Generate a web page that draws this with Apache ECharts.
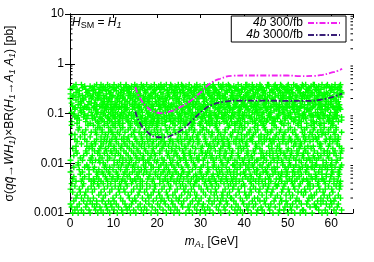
<!DOCTYPE html>
<html><head><meta charset="utf-8">
<script src="https://cdn.jsdelivr.net/npm/echarts@6/dist/echarts.min.js"></script>
<style>html,body{margin:0;padding:0;background:#fff}#c{width:374px;height:262px}</style>
</head><body><div id="c"></div>
<script>
// ---- data ----
const xTickLabels = ['0','10','20','30','40','50','60'];
const yTickLabels = ['0.001','0.01','0.1','1','10'];
const minorTickValues = [0.002,0.003,0.004,0.005,0.006,0.007,0.008,0.009,
  0.02,0.03,0.04,0.05,0.06,0.07,0.08,0.09,
  0.2,0.3,0.4,0.5,0.6,0.7,0.8,0.9,
  2,3,4,5,6,7,8,9];
const line300X = [15,16,17.5,19,21,23,25,27.5,30,32,34.5,37.5,40,45,50,53,56,58,60,61.5,62.5];
const line300Y = [0.34,0.21,0.14,0.112,0.102,0.11,0.13,0.175,0.265,0.39,0.5,0.575,0.58,0.58,0.58,0.565,0.57,0.6,0.66,0.72,0.79];
const line3000X = [15,16,17.5,19.5,21.5,23.5,26,28,30.5,32.5,35.5,39,45,50,55,57,59,61,62.5];
const line3000Y = [0.11,0.066,0.045,0.034,0.033,0.037,0.049,0.072,0.114,0.148,0.172,0.181,0.181,0.18,0.18,0.186,0.2,0.225,0.25];
// scan cloud: one string per mass column (0.25 GeV wide, first centred at 0.125 GeV);
// each character is one scan point; the character picks a log10(sigma) level below
const cloudAlphabet = '0123456789abcdefghijklmnopqrstuvwxyzABCDEFGHIJKLMNOPQRSTUVWXYZ';
const cloudLevelLog = [
  -3.000,-2.940,-2.880,-2.820,-2.760,-2.700,-2.640,-2.580,-2.520,-2.460,
  -2.410,-2.363,-2.316,-2.269,-2.222,-2.175,-2.128,-2.081,-2.034,-1.987,-1.940,-1.893,-1.846,
  -1.799,-1.752,-1.705,-1.658,-1.611,-1.564,-1.517,-1.470,-1.423,-1.376,-1.329,-1.282,-1.235,
  -1.195,-1.164,-1.133,-1.102,-1.071,-1.040,-1.009,-0.978,-0.947,-0.916,-0.885,-0.854,-0.823,
  -0.792,-0.761,-0.730,-0.699,-0.668,-0.637,-0.606,-0.575,-0.544,-0.513,-0.482,-0.451,-0.420];
const cloudColumns = [
"Q3fWk8T","zBa2NvH","Lp0XcR7","dGm4YhS","Ev9KtJ1","qZo5UbP","Wn2DsA6","iMx0FjR","Tg8CyV3","lOe7IuK",
"Zb1HrN5","wQk9ScXf","Jm4PaE0","tGv6LhYd","Rx7BoW2","nKs3DiUq","Fh5MzT8","cVp1JgOe","Yk0SuA4","rNb9QwHl",
"Dj3XmF7pRq","VzKa5TgWc","LbN8sY2hEo","UkCw1PxIr","GtZ4fJvMd3","BnQeS0yHa","WkR6cAoT9g","LyEpX2mUj","PsH1uZqD7b","KwNf4VxCl",
"YeM0aGrS5j","OtIh8QzBn","KvF3dXiW6p","RoJc2LsTg","AuN9kZbE1m","HyPq4DwVf","QhT7lCsY0e","MaGx3UrKo","JcB2wOnR8t","FzIv5XgSd",
"ZpE4iLqW1k","DuNb9HmAy","MtV6oKfX3s","GcQj0RwPe","BrJ8hYdT2n","OzLa7EvCk","UmS5gFpZ9x","HiWq1NbKt","DyQ0cRlA4j","VeTu8GsXo",
"IwL3fMbP7r","ZkEn2YhJa","VgC9tOqK1d","SxBi6FmWu","NjX2eHsU5p","AlRz0QcTy","GoY7kDaW3v","MfJb4LrPh","SqF1nTiE8w","KuZc5BxOg",
"HbR4mXjN0t","CeVs9YpAl","QzK6dGoU2h","LwIf7TrMk","EaW3yPcS8n","JqBv1ZgDu","XlH9sAtF5b","OkRe0NmYi","CpV2rMwQ7g","TjDz4KhUo",
"LfZ8aIuB1x","EsWn6PcGk","OyN5jRdH3q","XtAl9SvFe","TmC0wKgY6i","QbMo2JzEr","BhU7pGsL4c","VnZx8DkWa","RvI1eOfT9m","HyNj5XqAt",
"FkS3zBwE0d","PuLr7CgYh","WoJ6nMcQ2a","ZiGs4UeKx","AtX8lDvR5p","HqOb1TfNj","MgE4uYkW9s","BzIc3QrLd","ZiP0hFoC7x","SeKm6VwJb",
"HnT2qUaN5g","XlRy8DsEf","KcB9vLtZ1j","WoMd4YpGi","QsF6eIrA3k","NhUx0CbTm","DwY7oSgV2z","JfPa5LnXq","UjR1cKmH8t","EiZs4BvOe",
"NxG5bQpW0l","TdAu9FkCy","IeM3sZhD6r","YoKw2VaJg","BlU8nXfP4c","RqGt7HmSz","YpA0kEjL9w","NvCi5TdOu","GrK2hWbS7e","ZsIx1QfMn",
"VtO6aDmJ3o","FyUc8XlBk","LzH4gPqR0u","TjEw9NsAd","SaC7iYnV2x","KeMp5WbGh","FuX1dObZ6l","QrJk3HtEv","RkN9mUcT4s","AfYz0LgIw",
"JoE5pVhB8e","WnDq2SxKc","TdQ3yGiM7k","ZaRv1OuFl","CnW0tJsL6b","HxPe9XmAr","MhY8fKoU2j","EgTw4BcVq","XbF5rSzI1n","QuGl7NpDa",
"AwR3vOmC9d","LkZh0UsYe","PjT6cXqH4i","FbMt8KoWz","EgB2lNyV7a","SrJe5DuQx","KsZ9hUdG1w","AoIn3RfTm","OvL4kMpY0b","XcWj6EtHg",
"ZqD7eQiS5s","KmBu2NaFr","GlJ1oTwR8x","VhYc4PnCd","UfA6tHbM3j","EkZs9LqOy","IzW0gYrN7p","DlQa5XeKv","BmS5uFcU2n","RoHi8TwJb",
"YdK9iPsE4f","GzMx1VhAk","NcQ3aLtX6r","WjOe0BgSu","HpV8wDnZ2m","KyTb7FsIl","RiC1qJeA5h","UvLz9YoMt","DxO4sGkW0c","NfRp3QaEj",
"WuM7yBlH9e","SiXd6KrZg","LsT2nZqF5v","JoAm1UcPh","FgY6jIwR3k","QbDt8NxVe","QaE0mOdL7t","HuWl4ZsBi","TvK9cXhS2o","GyCf5MjRn",
"JrA3bUpN8w","YeIk0LgDq","VkH5gMzT1x","FsOa7QcWu","CeZ8pRiJ4d","KnXv2BtYl","SoG1hWbE6r","NjUm9AfHz","MyQ4lDuV0s","TcLg3PxKa",
"ItX7kBnO5f","ZhRe8JwCv","ZcN2qFaY9i","GtEo1SmUd","EjL6wHsK3b","WxQp7VrAg","OnU0tPeC8l","MkYz4DhIs","BfR5aZgT2u","JvNc9XoLy",
"XhD9mEqW6j","SaKl0GtFe","KwV3cIrM1p","UoBd5ZnQx","PbY7eOfA4k","HsTi8LjRu","GzS1nXtJ9v","CwEm2WaDh","UlK4rQdN6g","YbMf3IeVo",
"ApF8sVhZ0x","LuRj7TcOk","RmE2iGyH5t","WnDo1QbXs","NdT6fKaU3w","ZqJh9BlMg","HsO0bMxC8e","SrYk4PvEi","YuJ5oRcL2m","VfGt7XnAz",
"ChW9kEpI4d","NsUa0KgTq","LeB3yXjQ7r","OmZw1FhSb","TnG1cDuY6l","HvKp8MsRx","DoZ7tUiE0f","AgQy3WkJc","WqM4hJbS9n","XeIl5VaOu",
"JkR8aNwF2s","CzTd6YpGh","FcU0vOhK5j","LqEx9BmZt","ZyA6gSlP3o","WuMi2HcNe","QiX2dBtV7k","GnRa4JwFs","MbE9lYfT1u","DhOz8KqUr",
"ArN3pHmW5x","SvJc0ZeLg","SwG7cQkD4i","XbFo6TyAn","IvL1sMaR8h","UtYe3PjOd","EhZ5oTgJ0m","KwNq9CxBl","XtC2rFnS6b","VdHy4QuMi",
"OgY8kWiA3e","LpBs7RzDf","KaQ4wUcE1n","JhZt5GoXv","HmP0jDyN9x","TrIk2FsWb","BdS6tOuL3f","XqMa8YgKe","VnJ9hRbZ5l","CwEi1UoTp"
];
const X_MIN = 0, X_MAX = 65;

// ---- decode cloud ----
const cloudPoints = [];
cloudColumns.forEach((col, i) => {
  const x = 0.125 + 0.25 * i;
  for (const ch of col) {
    cloudPoints.push([x, Math.pow(10, cloudLevelLog[cloudAlphabet.indexOf(ch)])]);
  }
});
const pair = (xs, ys) => xs.map((x, i) => [x, ys[i]]);

const FONT = 'Liberation Sans, Arial, Helvetica, sans-serif';
const plus = 'path://M0,2.3H6V3.7H0ZM2.3,0H3.7V6H2.3Z';
const sub = {fontSize: 8, fontFamily: FONT, lineHeight: 8, verticalAlign: 'bottom', color: '#000'};
const subI = Object.assign({}, sub, {fontStyle: 'italic'});
const ital = {fontStyle: 'italic', fontFamily: FONT, color: '#000'};

const chart = echarts.init(document.getElementById('c'), null, {renderer: 'canvas'});
chart.setOption({
  animation: false,
  backgroundColor: '#fff',
  grid: {left: 70, right: 21, top: 14, bottom: 49, show: false, containLabel: false, outerBoundsMode: 'none'},
  xAxis: [{
    type: 'value', min: X_MIN, max: X_MAX, interval: 10,
    axisLine: {show: true, lineStyle: {color: '#000', width: 1}},
    axisTick: {show: true, inside: true, length: 4, lineStyle: {color: '#000'}},
    axisLabel: {color: '#000', fontSize: 12, fontFamily: FONT, margin: 5,
      formatter: v => xTickLabels[Math.round(v / 10)] || ''},
    splitLine: {show: false},
    name: '{i|m}{si|A}{ssi|1} [GeV]', nameLocation: 'middle', nameGap: 21,
    nameTextStyle: {fontSize: 12, fontFamily: FONT, color: '#000', lineHeight: 14,
      rich: {i: Object.assign({fontSize: 12, lineHeight: 14}, ital),
             si: Object.assign({}, subI, {fontSize: 9, lineHeight: 9}),
             ssi: Object.assign({}, subI, {fontSize: 6, lineHeight: 5})}}
  }, {
    type: 'value', min: X_MIN, max: X_MAX, interval: 10, position: 'top',
    axisLine: {show: true, lineStyle: {color: '#000', width: 1}},
    axisTick: {show: true, inside: true, length: 4, lineStyle: {color: '#000'}},
    axisLabel: {show: false}, splitLine: {show: false}
  }],
  yAxis: [{
    type: 'log', logBase: 10, min: 0.001, max: 10,
    axisLine: {show: true, lineStyle: {color: '#000', width: 1}},
    axisTick: {show: true, inside: true, length: 5, lineStyle: {color: '#000'}},
    axisLabel: {color: '#000', fontSize: 12, fontFamily: FONT, margin: 6,
      formatter: v => yTickLabels[Math.round(Math.log10(v)) + 3] || ''},
    splitLine: {show: false},
    name: 'σ({i|q}{i|q̄}→{i|WH}{si|1})×BR({i|H}{si|1}→{i|A}{si|1} {i|A}{si|1}) [pb]',
    nameLocation: 'middle', nameGap: 53, nameRotate: 90,
    nameTextStyle: {fontSize: 12, fontFamily: FONT, color: '#000', lineHeight: 14,
      rich: {i: Object.assign({fontSize: 12, lineHeight: 14}, ital),
             si: Object.assign({}, subI, {fontSize: 9, lineHeight: 9})}}
  }, {
    type: 'log', logBase: 10, min: 0.001, max: 10, position: 'right',
    axisLine: {show: true, lineStyle: {color: '#000', width: 1}},
    axisTick: {show: true, inside: true, length: 5, lineStyle: {color: '#000'}},
    axisLabel: {show: false}, splitLine: {show: false}
  }],
  legend: {
    right: 28, top: 16, orient: 'vertical', align: 'right',
    itemGap: 0, itemWidth: 32, itemHeight: 8,
    padding: [1, 5, 1, 15],
    borderColor: '#000', borderWidth: 1, borderRadius: 0, backgroundColor: '#fff',
    data: ['4b 300/fb', '4b 3000/fb'],
    itemStyle: {opacity: 0},
    textStyle: {fontSize: 12, fontFamily: FONT, color: '#000', lineHeight: 11,
      rich: {i: Object.assign({fontSize: 12, lineHeight: 11}, ital), n: {fontSize: 12, fontFamily: FONT, lineHeight: 11, color: '#000'}}},
    formatter: name => '{i|4b}{n| ' + name.slice(3) + '}'
  },
  graphic: [{
    type: 'text', left: 72, top: 17, z: 50,
    style: {
      text: '{i|H}{s|SM}{n| = }{i|H}{si|1}',
      rich: {i: Object.assign({fontSize: 12, lineHeight: 14}, ital),
             n: {fontSize: 12, fontFamily: FONT, lineHeight: 14, color: '#000'},
             s: Object.assign({}, sub, {fontSize: 9, lineHeight: 9}),
             si: Object.assign({}, subI, {fontSize: 9, lineHeight: 9})}
    }
  }],
  series: [{
    name: 'scan', type: 'scatter', data: cloudPoints, symbol: plus, symbolSize: 6,
    itemStyle: {color: '#00ff00', opacity: 1}, silent: true, z: 1
  }, {
    name: '4b 300/fb', type: 'line', data: pair(line300X, line300Y), smooth: true,
    symbol: 'none', silent: true, z: 5,
    lineStyle: {color: '#f020f0', width: 1.8, type: [6, 2, 1.5, 2]},
    itemStyle: {color: '#f020f0'}
  }, {
    name: '4b 3000/fb', type: 'line', data: pair(line3000X, line3000Y), smooth: true,
    symbol: 'none', silent: true, z: 5,
    lineStyle: {color: '#3a1f78', width: 1.8, type: [6, 2, 1.5, 2]},
    itemStyle: {color: '#3a1f78'}
  }, {
    name: 'minorTicks', type: 'custom', silent: true, z: 10, clip: false,
    data: minorTickValues.map(v => [X_MIN, v]),
    renderItem: (params, api) => {
      const v = api.value(1);
      const l = api.coord([X_MIN, v]);
      const r = api.coord([X_MAX, v]);
      return {type: 'group', children: [
        {type: 'line', shape: {x1: l[0], y1: l[1], x2: l[0] + 2.5, y2: l[1]}, style: {stroke: '#000', lineWidth: 1}},
        {type: 'line', shape: {x1: r[0] - 2.5, y1: r[1], x2: r[0], y2: r[1]}, style: {stroke: '#000', lineWidth: 1}}
      ]};
    }
  }]
});
</script></body></html>
